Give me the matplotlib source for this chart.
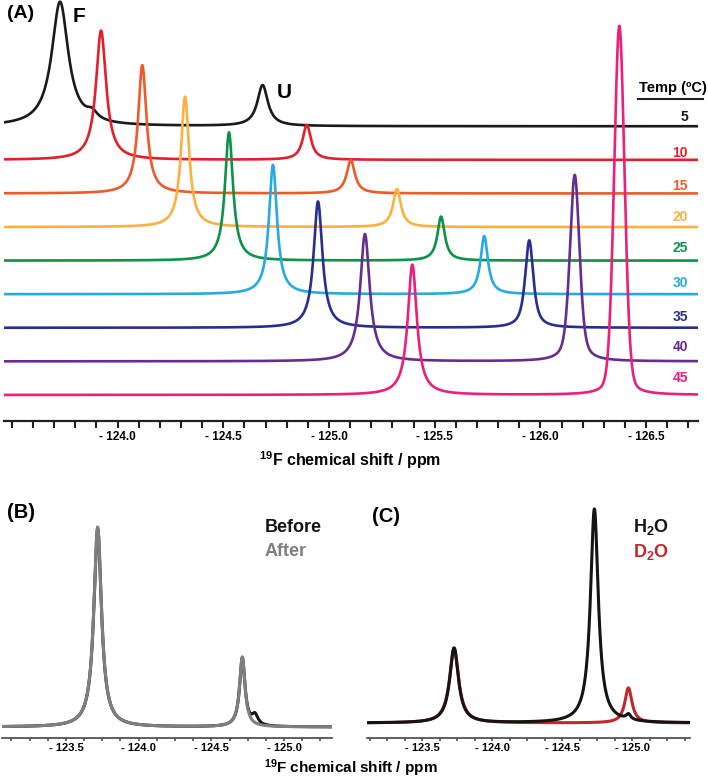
import matplotlib
matplotlib.use("Agg")
import matplotlib.pyplot as plt
from matplotlib.ticker import MultipleLocator, FuncFormatter
import numpy as np

plt.rcParams["font.family"] = ["Liberation Sans", "DejaVu Sans"]
plt.rcParams["font.weight"] = "bold"
plt.rcParams["mathtext.fontset"] = "custom"
plt.rcParams["mathtext.rm"] = "Liberation Sans:bold"
plt.rcParams["mathtext.bf"] = "Liberation Sans:bold"
plt.rcParams["mathtext.default"] = "bf"

# ---- panel A: temperature series (peaks: shift ppm, height in trace spacings, FWHM ppm)
temps = [5, 10, 15, 20, 25, 30, 35, 40, 45]
colors = ["#1a1a1a", "#e3202a", "#ef5a28", "#fbb040", "#0d9247",
          "#27aae1", "#262e8f", "#652d90", "#ec1f7a"]
f_shift = [-123.728, -123.711, -123.695, -123.686, -123.683, -123.680, -123.682, -123.693, -123.706]
f_height = [3.70, 3.85, 3.82, 3.88, 3.82, 3.85, 3.76, 3.79, 3.88]
f_width = [0.095, 0.058, 0.048, 0.046, 0.046, 0.046, 0.050, 0.054, 0.052]
u_shift = [-124.686, -124.684, -124.681, -124.688, -124.686, -124.679, -124.681, -124.685, -124.685]
u_height = [1.22, 1.04, 0.99, 1.13, 1.31, 1.73, 2.60, 5.55, 10.99]
u_width = [0.060, 0.047, 0.047, 0.045, 0.042, 0.042, 0.046, 0.054, 0.058]
u_lorentz_frac = [1.0, 1.0, 1.0, 1.0, 1.0, 1.0, 0.8, 0.45, 0.2]
# small shoulder on the 5 C trace: (trace, shift, height, FWHM)
shoulders = [(0, -123.879, 0.22, 0.06)]
stack_dx = 0.211   # ppm shift between stacked traces
stack_dy = 1.0

# ---- panel B: before / after
b_names = ["Before", "After"]
b_colors = ["#141414", "#7f7f7f"]
b_shift = [[-123.718, -124.713, -124.80], [-123.718, -124.713]]
b_height = [[0.99, 0.34, 0.05], [1.0, 0.35]]
b_width = [[0.064, 0.045, 0.05], [0.064, 0.045]]

# ---- panel C: H2O / D2O
c_names = ["H$_2$O", "D$_2$O"]
c_colors = ["#141414", "#c1272d"]
c_shift = [[-123.729, -124.731, -124.974], [-123.729, -124.974]]
c_height = [[0.35, 1.0, 0.025], [0.35, 0.164]]
c_width = [[0.075, 0.068, 0.04], [0.079, 0.062]]


def peak(x, p, h, w, eta=1.0):
    lor = 1 / (1 + ((x - p) / (w / 2)) ** 2)
    gau = np.exp(-4 * np.log(2) * ((x - p) / w) ** 2)
    return h * (eta * lor + (1 - eta) * gau)


def lorentz(x, pos, h, w):
    y = np.zeros_like(x)
    for p, hh, ww in zip(pos, h, w):
        y += peak(x, p, hh, ww)
    return y


def px(x, y):
    return x / 709, 1 - y / 778


fig = plt.figure(figsize=(7.09, 7.78), dpi=100)

# ---------------- panel A
axA = fig.add_axes([4 / 709, (778 - 421) / 778, 694 / 709, 421 / 778])
xa = np.linspace(-123.463, -126.745, 4000)
n = len(temps)
for i in range(n):
    xt = xa + i * stack_dx
    base = (n - 1 - i) * stack_dy
    y = base + peak(xt, f_shift[i], f_height[i], f_width[i])
    y += peak(xt, u_shift[i], u_height[i], u_width[i], u_lorentz_frac[i])
    for j, p, h, w in shoulders:
        if j == i:
            y += peak(xt, p, h, w)
    axA.plot(xa, y, color=colors[i], lw=1.9, zorder=2 + i)
axA.set_xlim(-123.463, -126.745)
axA.set_ylim(-0.776, 11.76)
axA.xaxis.set_major_locator(MultipleLocator(0.5))
axA.xaxis.set_minor_locator(MultipleLocator(0.1))
axA.xaxis.set_major_formatter(
    FuncFormatter(lambda v, p: f"- {abs(v):.1f}" if v < -123.9 else ""))
axA.tick_params(axis="x", which="both", direction="out", length=5, width=1.5,
                color="#231f20", labelsize=8.5, pad=2)
axA.set_yticks([])
for s in ["left", "right", "top"]:
    axA.spines[s].set_visible(False)
axA.spines["bottom"].set_linewidth(1.6)
axA.spines["bottom"].set_color("#231f20")

fig.text(*px(7, 13), "(A)", fontsize=14, va="center", ha="left")
fig.text(*px(73, 16), "F", fontsize=15, va="center", ha="left")
fig.text(*px(277, 92), "U", fontsize=15, va="center", ha="left")
fig.text(*px(673, 88), "Temp (ºC)", fontsize=10.5, va="center", ha="center")
fig.add_artist(plt.Line2D([638 / 709, 703 / 709], [1 - 99 / 778, 1 - 99 / 778],
                          color="#231f20", lw=1.5))
label_y = [117, 153, 186, 217, 248, 283, 317, 347, 378]
for t, c, yy in zip(temps, colors, label_y):
    fig.text(*px(688, yy), str(t), fontsize=10, color=c, va="center", ha="right")
fig.text(*px(350, 460), r"$^{19}$F chemical shift / ppm", fontsize=11.5,
         va="center", ha="center")


def small_axis(ax, xlim):
    ax.set_xlim(*xlim)
    ax.xaxis.set_major_locator(MultipleLocator(0.5))
    ax.xaxis.set_minor_locator(MultipleLocator(0.125))
    ax.xaxis.set_major_formatter(FuncFormatter(lambda v, p: f"- {abs(v):.1f}"))
    ax.tick_params(axis="x", which="both", direction="out", length=2.5, width=1.1,
                   color="#444444", labelsize=8, pad=1)
    ax.set_yticks([])
    for s in ["left", "right", "top"]:
        ax.spines[s].set_visible(False)
    ax.spines["bottom"].set_linewidth(1.2)
    ax.spines["bottom"].set_color("#444444")


# ---------------- panel B
axB = fig.add_axes([2 / 709, 40 / 778, 330 / 709, 248 / 778])
xb = np.linspace(-123.06, -125.33, 3000)
for k in range(2):
    axB.plot(xb, lorentz(xb, b_shift[k], b_height[k], b_width[k]),
             color=b_colors[k], lw=2.2)
axB.set_ylim(-0.055, 1.185)
small_axis(axB, (-123.06, -125.33))
fig.text(*px(7, 513), "(B)", fontsize=14.5, va="center", ha="left")
fig.text(*px(265, 528), b_names[0], fontsize=13, color=b_colors[0], va="center")
fig.text(*px(265, 552), b_names[1], fontsize=13, color=b_colors[1], va="center")

# ---------------- panel C
axC = fig.add_axes([367 / 709, 40 / 778, 323 / 709, 248 / 778])
xc = np.linspace(-123.107, -125.414, 3000)
for k in [1, 0]:
    axC.plot(xc, lorentz(xc, c_shift[k], c_height[k], c_width[k]),
             color=c_colors[k], lw=2.2)
axC.set_ylim(-0.07, 1.089)
small_axis(axC, (-123.107, -125.414))
fig.text(*px(372, 517), "(C)", fontsize=14.5, va="center", ha="left")
fig.text(*px(633, 527), c_names[0], fontsize=13, color=c_colors[0], va="center")
fig.text(*px(633, 552), c_names[1], fontsize=13, color=c_colors[1], va="center")

fig.text(*px(351, 768), r"$^{19}$F chemical shift / ppm", fontsize=11,
         va="center", ha="center")

fig.savefig("out.png", dpi=100)
